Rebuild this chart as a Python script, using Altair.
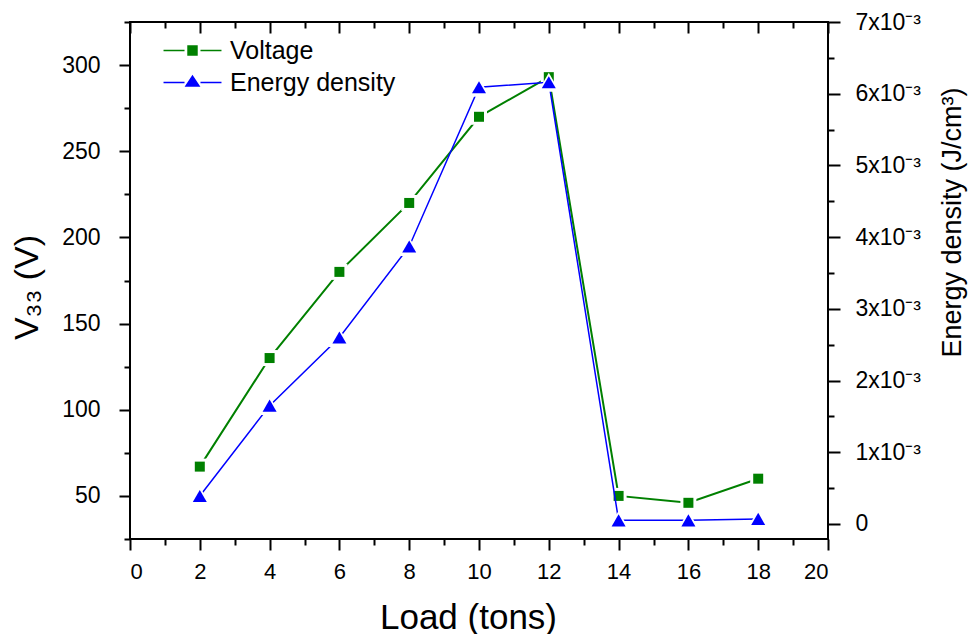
import altair as alt
import pandas as pd

# ---- data ----
load = [2, 4, 6, 8, 10, 12, 14, 16, 18]
voltage = [67, 130, 180, 220, 270, 293, 50, 46, 60]
energy = [0.39e-3, 1.65e-3, 2.60e-3, 3.87e-3, 6.09e-3, 6.16e-3, 0.05e-3, 0.05e-3, 0.07e-3]
series_names = ["Voltage", "Energy density"]

x_major = list(range(0, 21, 2))
x_minor = list(range(1, 20, 2))
v_major = [50, 100, 150, 200, 250, 300]
v_minor = [25, 75, 125, 175, 225, 275, 325]
e_major = [i * 1e-3 for i in range(8)]
e_minor = [(i + 0.5) * 1e-3 for i in range(7)]

GREEN = "#008000"
BLUE = "#0000FF"
FONT = "Liberation Sans"

df = pd.DataFrame({"load": load, "voltage": voltage, "energy": energy})
leg_df = pd.DataFrame({"series": series_names})

xs = alt.Scale(domain=[0, 20], nice=False, zero=False)
vs = alt.Scale(domain=[25, 325], nice=False, zero=False)
es = alt.Scale(domain=[-0.00021, 0.007], nice=False, zero=False)

ax_b_major = alt.Axis(orient="bottom", values=x_major, tickSize=11, labelPadding=11,
                      labelFontSize=22, format="d", title="Load (tons)", titleFontSize=35,
                      titlePadding=18, titleX=338)
ax_b_minor = alt.Axis(orient="bottom", values=x_minor, tickSize=6, labels=False, title=None)
ax_t_major = alt.Axis(orient="top", values=x_major, tickSize=11, offset=-11, labels=False, title=None)
ax_t_minor = alt.Axis(orient="top", values=x_minor, tickSize=6, offset=-6, labels=False, title=None)

ax_l_major = alt.Axis(orient="left", values=v_major, tickSize=11, labelPadding=19, format="d",
                      labelFontSize=23,
                      title="V₃₃ (V)", titleFontSize=34, titleAngle=270, titleX=-93, titleY=265,
                      titleAlign="center", titleBaseline="alphabetic")
ax_l_minor = alt.Axis(orient="left", values=v_minor, tickSize=6, labels=False, title=None)

ax_r_major = alt.Axis(orient="right", values=e_major, tickSize=12, labelPadding=15,
                      labelFontSize=23,
                      labelExpr="datum.value == 0 ? '0' : format(round(datum.value*1000), 'd') + 'x10⁻³'",
                      title="Energy density (J/cm³)", titleFontSize=27, titleAngle=270,
                      titleX=132, titleY=200, titleAlign="center", titleBaseline="alphabetic")
ax_r_minor = alt.Axis(orient="right", values=e_minor, tickSize=6, labels=False, title=None)

base = alt.Chart(df)

v_line = base.mark_line(color=GREEN, strokeWidth=2).encode(
    x=alt.X("load:Q", scale=xs, axis=ax_b_major),
    y=alt.Y("voltage:Q", scale=vs, axis=ax_l_major),
)
v_halo = base.mark_point(shape="square", filled=True, color="white", size=256, opacity=1).encode(
    x=alt.X("load:Q", scale=xs, axis=ax_b_minor),
    y=alt.Y("voltage:Q", scale=vs, axis=ax_l_minor),
)
v_pts = base.mark_point(shape="square", filled=True, color=GREEN, size=100, opacity=1).encode(
    x=alt.X("load:Q", scale=xs, axis=ax_t_major),
    y=alt.Y("voltage:Q", scale=vs, axis=None),
)
e_line = base.mark_line(color=BLUE, strokeWidth=1.5).encode(
    x=alt.X("load:Q", scale=xs, axis=ax_t_minor),
    y=alt.Y("energy:Q", scale=es, axis=ax_r_major),
)
e_halo = base.mark_point(shape="triangle-up", filled=True, color="white", size=480, opacity=1).encode(
    x=alt.X("load:Q", scale=xs, axis=None),
    y=alt.Y("energy:Q", scale=es, axis=ax_r_minor),
)
e_pts = base.mark_point(shape="triangle-up", filled=True, color=BLUE, size=196, opacity=1).encode(
    x=alt.X("load:Q", scale=xs, axis=None),
    y=alt.Y("energy:Q", scale=es, axis=None),
)

SQ = "M-4.14,0H-1.14M1.14,0H4.14M-0.64,-0.64H0.64V0.64H-0.64Z"
TRI = "M-4.14,0H-1.14M1.14,0H4.14M0,-0.9L0.93,0.5H-0.93Z"

legend_layer = alt.Chart(leg_df).transform_filter("datum.series == 'none'").mark_point(
    filled=True, opacity=1, strokeWidth=1.5
).encode(
    fill=alt.Fill("series:N", scale=alt.Scale(domain=series_names, range=[GREEN, BLUE]),
                  legend=alt.Legend(title=None)),
    stroke=alt.Stroke("series:N", scale=alt.Scale(domain=series_names, range=[GREEN, BLUE]),
                      legend=alt.Legend(title=None)),
    shape=alt.Shape("series:N", scale=alt.Scale(domain=series_names, range=[SQ, TRI]),
                    legend=alt.Legend(title=None)),
)

chart = alt.layer(v_line, v_halo, v_pts, e_line, e_halo, e_pts, legend_layer).resolve_scale(
    y="independent"
).resolve_axis(
    x="independent", y="independent"
).properties(
    width=698, height=517,
    autosize=alt.AutoSizeParams(type="none"),
    padding={"left": 122, "top": 14, "right": 140, "bottom": 95},
).configure_view(
    stroke="black", strokeWidth=2
).configure_axis(
    grid=False, domain=False, tickColor="black", tickWidth=2,
    labelColor="black", titleColor="black", labelFont=FONT, titleFont=FONT,
    labelFontSize=23, titleFontWeight="normal",
).configure_legend(
    orient="none", legendX=50, legendY=16, padding=0, labelFontSize=25, labelFont=FONT,
    labelColor="black", labelOffset=25, labelLimit=500, rowPadding=6, symbolSize=196,
    symbolStrokeWidth=1.5,
)

chart.save("out.html", embed_options={"renderer": "svg", "actions": False})
